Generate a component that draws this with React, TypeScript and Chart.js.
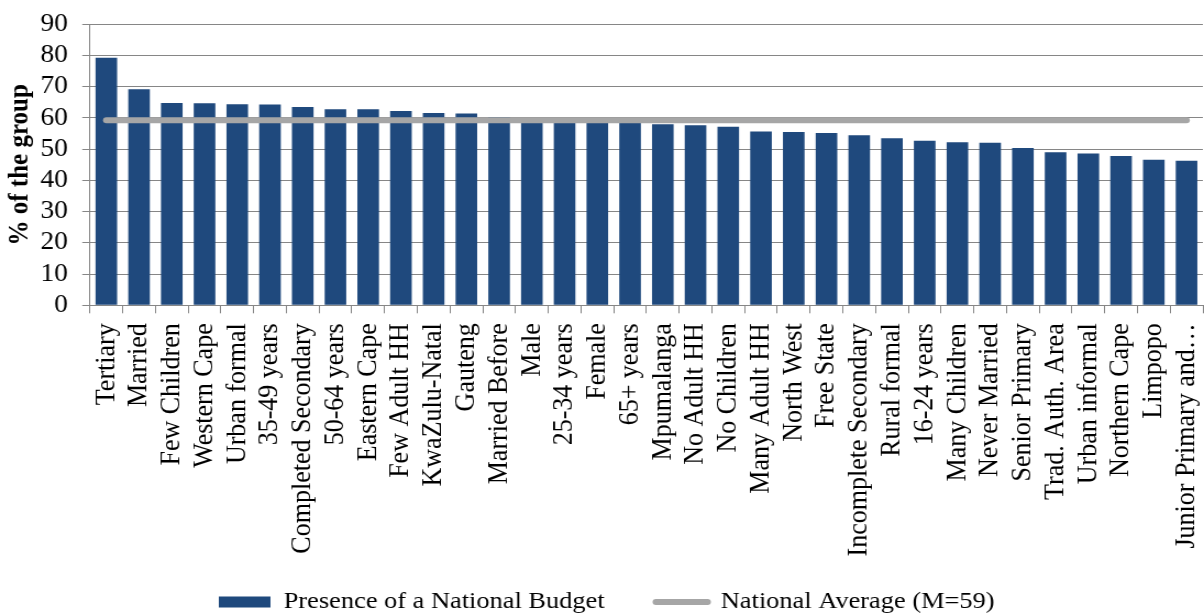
import React, { useEffect, useRef } from 'react';
import { Chart, registerables } from 'chart.js';

Chart.register(...registerables);

const categories: string[] = [
  'Tertiary', 'Married', 'Few Children', 'Western Cape', 'Urban formal', '35-49 years',
  'Completed Secondary', '50-64 years', 'Eastern Cape', 'Few Adult HH', 'KwaZulu-Natal',
  'Gauteng', 'Married Before', 'Male', '25-34 years', 'Female', '65+ years', 'Mpumalanga',
  'No Adult HH', 'No Children', 'Many Adult HH', 'North West', 'Free State',
  'Incomplete Secondary', 'Rural formal', '16-24 years', 'Many Children', 'Never Married',
  'Senior Primary', 'Trad. Auth. Area', 'Urban informal', 'Northern Cape', 'Limpopo',
  'Junior Primary and…',
];

const budgetValues: number[] = [
  79.3, 69.2, 64.8, 64.7, 64.4, 64.3, 63.5, 62.8, 62.8, 62.2, 61.6, 61.4, 60.2, 59.6,
  59.3, 59.0, 58.6, 58.0, 57.7, 57.2, 55.7, 55.5, 55.2, 54.5, 53.5, 52.7, 52.2, 52.1,
  50.4, 49.0, 48.6, 47.8, 46.6, 46.3,
];

const nationalAverage = 59.3;
const averageValues: number[] = categories.map(() => nationalAverage);

const barLabel = 'Presence of a National Budget';
const lineLabel = 'National Average (M=59)';
const yAxisTitle = '% of the group';
const yMin = 0;
const yMax = 90;
const yStep = 10;

// layout (internal canvas pixels; canvas is shown stretched horizontally)
const CANVAS_W = 1095;
const CANVAS_H = 615;
const DISPLAY_W = 1204;
const FONT = "'Liberation Serif', 'Times New Roman', serif";
const GRID = '#868686';
const BAR_COLOR = '#1F497D';
const LINE_COLOR = '#A6A6A6';
const LEGEND_H = 40;
const PLOT_BOTTOM = 305.3;
const AXIS_X = 81.8;
const LEGEND_PAD = 46.6;

export default function App() {
  const ref = useRef<HTMLCanvasElement | null>(null);

  useEffect(() => {
    if (!ref.current) return;
    const legendPlacer = {
      id: 'legendPlacer',
      beforeDraw(chart: any) {
        const lg = chart.legend;
        if (lg) {
          lg.top = 590 - LEGEND_PAD;
          lg.left = 199 - LEGEND_PAD;
        }
      },
    };
    const chart = new Chart(ref.current, {
      type: 'bar',
      data: {
        labels: categories,
        datasets: [
          {
            type: 'bar',
            label: barLabel,
            data: budgetValues,
            backgroundColor: BAR_COLOR,
            borderWidth: 0,
            barPercentage: 0.66,
            categoryPercentage: 1,
            order: 1,
          } as any,
          {
            type: 'line',
            label: lineLabel,
            data: averageValues,
            borderColor: LINE_COLOR,
            backgroundColor: LINE_COLOR,
            borderWidth: 6,
            borderCapStyle: 'round',
            pointRadius: 0,
            pointHoverRadius: 0,
            tension: 0,
            order: 0,
          } as any,
        ],
      },
      options: {
        responsive: false,
        devicePixelRatio: 1,
        animation: false,
        layout: { padding: { top: 24.3, right: 1, bottom: 0, left: 0 } },
        scales: {
          x: {
            offset: true,
            grid: {
              offset: true,
              drawOnChartArea: false,
              drawTicks: true,
              tickLength: 8,
              color: GRID,
              lineWidth: 1,
            },
            border: { display: true, color: GRID, width: 1 },
            ticks: {
              autoSkip: false,
              maxRotation: 90,
              minRotation: 90,
              padding: 10,
              color: '#000',
              font: { family: FONT, size: 26 },
            },
            afterFit: (s: any) => {
              s.paddingLeft = 0;
              s.paddingRight = 0;
              s.height = CANVAS_H - LEGEND_H - PLOT_BOTTOM;
            },
          } as any,
          y: {
            min: yMin,
            max: yMax,
            ticks: {
              stepSize: yStep,
              autoSkip: false,
              padding: 13,
              color: '#000',
              font: { family: FONT, size: 25 },
            },
            grid: { color: GRID, lineWidth: 1, tickLength: 7, drawTicks: true },
            border: { display: true, color: GRID, width: 1 },
            title: {
              display: true,
              text: yAxisTitle,
              color: '#000',
              font: { family: FONT, size: 25, weight: 'bold' },
              padding: { top: 4, bottom: 4 },
            },
            afterFit: (s: any) => {
              s.width = AXIS_X;
              s.paddingTop = 0;
              s.paddingBottom = 0;
            },
          } as any,
        },
        plugins: {
          legend: {
            position: 'bottom',
            align: 'start',
            maxHeight: LEGEND_H,
            labels: {
              usePointStyle: true,
              pointStyleWidth: 47,
              boxHeight: 11,
              padding: LEGEND_PAD,
              color: '#000',
              font: { family: FONT, size: 24 },
              sort: (a: any, b: any) => a.datasetIndex - b.datasetIndex,
              generateLabels: (c: any) => {
                const items = (Chart as any).defaults.plugins.legend.labels.generateLabels(c);
                return items.map((it: any) => {
                  if (it.datasetIndex === 0) {
                    return { ...it, pointStyle: 'rect', lineWidth: 0, fillStyle: BAR_COLOR, strokeStyle: BAR_COLOR };
                  }
                  return { ...it, pointStyle: 'line', lineWidth: 6, lineCap: 'round', strokeStyle: LINE_COLOR, fillStyle: LINE_COLOR };
                });
              },
            },
          } as any,
          tooltip: { enabled: false },
        },
      },
      plugins: [legendPlacer],
    });
    return () => chart.destroy();
  }, []);

  return (
    <div style={{ position: 'absolute', left: 0, top: 0, width: DISPLAY_W, height: CANVAS_H }}>
      <canvas
        ref={ref}
        width={CANVAS_W}
        height={CANVAS_H}
        style={{ width: `${DISPLAY_W}px`, height: `${CANVAS_H}px`, display: 'block' }}
      />
    </div>
  );
}
